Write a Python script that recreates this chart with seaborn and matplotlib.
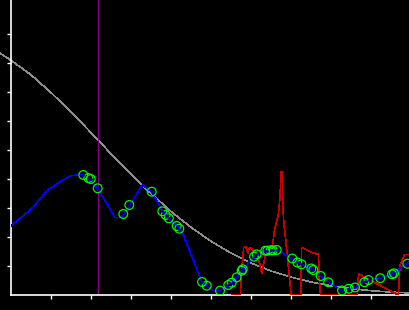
import matplotlib
matplotlib.use("Agg")
import matplotlib.pyplot as plt
import seaborn as sns
import pandas as pd

sns.set_style("dark")
plt.rcParams['font.family'] = ['DejaVu Sans']

# ---- data ----
gray_x = [-0.27, 0.0, 0.5, 1.0, 1.5, 2.0, 2.5, 3.0, 3.5, 4.0, 4.5, 5.0, 5.5, 6.0,
          6.5, 7.0, 7.5, 8.0, 8.5, 9.0, 9.5, 10.0]
gray_y = [8.34, 8.10, 7.60, 6.99, 6.32, 5.61, 4.88, 4.17, 3.51, 2.89, 2.34, 1.86,
          1.45, 1.11, 0.83, 0.62, 0.45, 0.32, 0.22, 0.15, 0.10, 0.07]

blue_x = [0.0, 0.233, 0.565, 0.9, 1.233, 1.483, 1.733, 1.815, 1.983, 2.165, 2.4,
          2.608, 2.733, 2.833, 2.983, 3.233, 3.3, 3.525, 3.79, 3.965, 4.15, 4.215,
          4.315, 4.565, 4.775, 4.9, 5.065, 5.233, 5.44, 5.65, 5.8, 6.083, 6.15,
          6.383, 6.65, 7.05, 7.265, 7.55, 7.75, 7.94, 8.19, 8.283, 8.465, 8.6,
          8.833, 8.94, 9.24, 9.565, 9.915, 9.983]
blue_y = [2.379, 2.645, 3.024, 3.597, 3.907, 4.103, 4.162, 4.138, 3.966, 3.679,
          3.162, 2.666, 2.679, 2.793, 3.103, 3.679, 3.793, 3.562, 2.897, 2.61,
          2.379, 2.286, 2.069, 1.207, 0.459, 0.321, 0.148, 0.148, 0.345, 0.61,
          0.886, 1.321, 1.403, 1.528, 1.552, 1.241, 1.059, 0.886, 0.655, 0.438,
          0.231, 0.148, 0.217, 0.252, 0.448, 0.517, 0.586, 0.759, 1.093, 1.183]

pts_x = [1.815, 1.94, 2.0, 2.175, 2.815, 2.965, 3.525, 3.79, 3.875, 3.953, 4.15,
         4.215, 4.783, 4.9, 5.233, 5.44, 5.525, 5.65, 5.775, 5.8, 6.083, 6.15,
         6.365, 6.415, 6.5, 6.55, 6.65, 7.04, 7.165, 7.27, 7.515, 7.565, 7.75,
         7.94, 8.283, 8.45, 8.608, 8.84, 8.945, 9.238, 9.533, 9.583, 9.915]
pts_y = [4.138, 4.034, 4.0, 3.679, 2.793, 3.103, 3.562, 2.886, 2.759, 2.645, 2.379,
         2.286, 0.448, 0.321, 0.148, 0.345, 0.424, 0.610, 0.838, 0.886, 1.321,
         1.403, 1.528, 1.528, 1.541, 1.541, 1.552, 1.259, 1.121, 1.059, 0.914,
         0.862, 0.655, 0.438, 0.155, 0.217, 0.259, 0.441, 0.517, 0.579, 0.714,
         0.748, 1.079]

red_x = [5.525, 5.745, 5.758, 5.808, 5.82, 5.883, 5.925, 5.958, 6.008, 6.065,
         6.125, 6.19, 6.233, 6.275, 6.315, 6.358, 6.4, 6.525, 6.565, 6.59, 6.625,
         6.69, 6.733, 6.758, 6.783, 6.795, 6.808, 6.833, 6.858, 6.9, 6.94, 6.983,
         7.008, 7.25, 7.275, 7.558, 7.695, 7.708, 7.745, 8.67, 8.695, 9.69, 9.733,
         9.775, 9.84, 9.983]
red_y = [0.0, 0.0, 0.690, 1.276, 1.638, 1.655, 1.438, 1.610, 1.610, 1.552, 1.493,
         1.266, 1.034, 0.748, 1.034, 1.321, 1.438, 1.610, 1.897, 2.183, 2.414,
         2.759, 3.379, 4.252, 4.252, 3.621, 2.931, 2.414, 2.128, 1.552, 0.976,
         0.403, 0.0, 0.0, 1.638, 1.448, 1.403, 0.690, 0.0, 0.0, 0.724, 0.0, 1.034,
         1.148, 1.403, 1.403]

vline_x = 2.19
x_ticks = [1, 2, 3, 4, 5, 6, 7, 8, 9]
y_ticks = [1, 2, 3, 4, 5, 6, 7, 8, 9]

# ---- figure ----
fig = plt.figure(figsize=(4.1, 3.1), dpi=100, facecolor="black")
ax = fig.add_axes([10.7 / 410, 15 / 310, 399.3 / 410, 295 / 310])
ax.set_facecolor("black")

LW = 0.45
sns.lineplot(x=gray_x, y=gray_y, ax=ax, color="#8c8c8c", lw=LW, sort=False,
             estimator=None, clip_on=False, antialiased=False)
ax.axvline(vline_x, color="#8b008b", lw=0.72, antialiased=False)
sns.lineplot(x=red_x, y=red_y, ax=ax, color="#c80000", lw=LW, sort=False,
             estimator=None, zorder=3, antialiased=False)
sns.lineplot(x=blue_x, y=blue_y, ax=ax, color="#0000ff", lw=LW, sort=False,
             estimator=None, zorder=4, antialiased=False)
pts = pd.DataFrame({"x": pts_x, "y": pts_y})
sns.scatterplot(data=pts, x="x", y="y", ax=ax, marker="o", s=40,
                facecolor="none", edgecolor="#00ff00", linewidth=0.85, zorder=5)
ax.plot(pts_x, pts_y, ls="none", marker="o", ms=1.0, color="#0000aa", zorder=6)

ax.set_xlim(0, 9.9825)
ax.set_ylim(0, 295 / 29)
ax.set_xticks(x_ticks)
ax.set_yticks(y_ticks)
ax.set_xticklabels([])
ax.set_yticklabels([])
ax.set_xlabel("")
ax.set_ylabel("")
ax.grid(False)
for side in ("top", "right"):
    ax.spines[side].set_visible(False)
for side in ("left", "bottom"):
    ax.spines[side].set_visible(True)
    ax.spines[side].set_color("white")
    ax.spines[side].set_linewidth(1.2)
ax.tick_params(axis="both", colors="white", length=3, width=1, direction="out",
               bottom=True, left=True)

fig.savefig("out.png", dpi=100, facecolor="black")
